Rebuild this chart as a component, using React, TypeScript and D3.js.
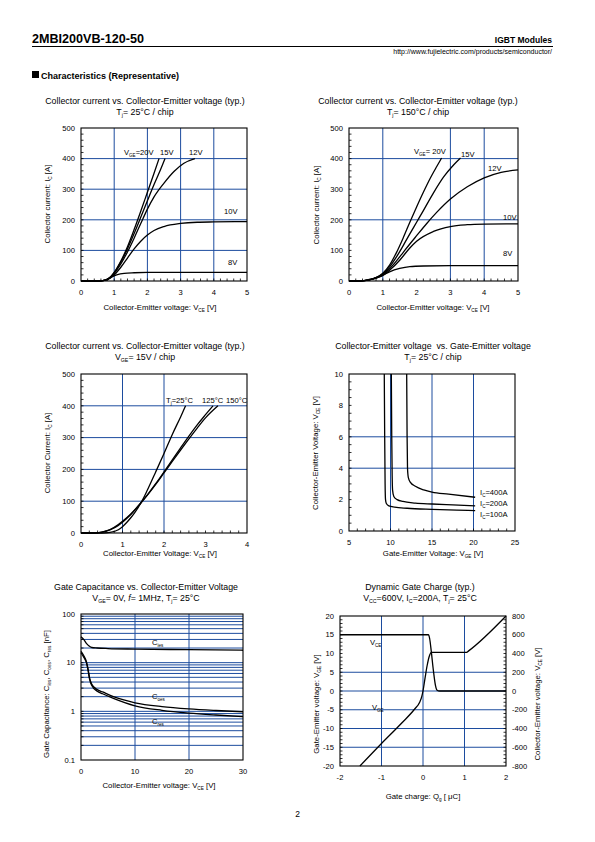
import React from 'react';
import * as d3 from 'd3';

type Pt = [number, number];

const FONT = "'Liberation Sans', Arial, Helvetica, sans-serif";
const GRID = '#1c4c9e';
const TS = 8.8; // title size
const LS = 7.8; // axis label size

// ---------- Chart 1: Ic vs Vce, Tj=25C ----------
const c1XTicks = [0, 1, 2, 3, 4, 5];
const c1YTicks = [0, 100, 200, 300, 400, 500];
const c1Vge20: Pt[] = [[0, 0], [0.5, 0], [0.7, 2], [0.8, 6], [0.9, 15], [1.0, 28], [1.2, 65], [1.4, 112], [1.6, 168], [1.8, 228], [2.0, 290], [2.2, 352], [2.35, 400]];
const c1Vge15: Pt[] = [[0, 0], [0.5, 0], [0.7, 2], [0.8, 6], [0.9, 14], [1.0, 27], [1.2, 62], [1.4, 105], [1.6, 155], [1.8, 208], [2.0, 262], [2.2, 315], [2.4, 365], [2.53, 400]];
const c1Vge12: Pt[] = [[0, 0], [0.5, 0], [0.7, 2], [0.8, 5], [0.9, 13], [1.0, 25], [1.2, 56], [1.4, 95], [1.6, 140], [1.8, 188], [2.0, 235], [2.2, 275], [2.5, 320], [2.8, 358], [3.1, 385], [3.43, 400]];
const c1Vge10: Pt[] = [[0, 0], [0.5, 0], [0.7, 2], [0.8, 5], [0.9, 11], [1.0, 20], [1.2, 45], [1.4, 75], [1.6, 105], [1.8, 130], [2.0, 150], [2.2, 165], [2.5, 178], [3.0, 188], [3.5, 192], [4.0, 193], [5.0, 194]];
const c1Vge8: Pt[] = [[0, 0], [0.5, 0], [0.7, 2], [0.8, 6], [0.9, 12], [1.0, 17], [1.1, 21], [1.3, 25], [1.6, 27], [2.0, 28], [3.0, 28], [5.0, 28]];

// ---------- Chart 2: Ic vs Vce, Tj=150C ----------
const c2Vge20: Pt[] = [[0, 0], [0.3, 0], [0.5, 2], [0.7, 7], [0.9, 17], [1.0, 25], [1.2, 52], [1.4, 92], [1.6, 140], [1.8, 192], [2.0, 242], [2.2, 290], [2.4, 335], [2.6, 375], [2.74, 402]];
const c2Vge15: Pt[] = [[0, 0], [0.3, 0], [0.5, 2], [0.7, 7], [0.9, 16], [1.0, 23], [1.2, 46], [1.4, 78], [1.6, 115], [1.8, 154], [2.0, 192], [2.2, 230], [2.5, 288], [2.8, 340], [3.1, 380], [3.3, 402]];
const c2Vge12: Pt[] = [[0, 0], [0.3, 0], [0.5, 2], [0.7, 7], [0.9, 15], [1.0, 21], [1.2, 40], [1.4, 65], [1.6, 93], [1.8, 121], [2.0, 148], [2.3, 188], [2.6, 225], [3.0, 268], [3.5, 308], [4.0, 337], [4.5, 355], [5.0, 363]];
const c2Vge10: Pt[] = [[0, 0], [0.3, 0], [0.5, 2], [0.7, 6], [0.9, 13], [1.0, 18], [1.2, 35], [1.5, 68], [1.8, 108], [2.0, 130], [2.5, 162], [3.0, 178], [3.5, 184], [4.0, 186], [5.0, 187]];
const c2Vge8: Pt[] = [[0, 0], [0.3, 0], [0.5, 2], [0.7, 6], [0.9, 14], [1.0, 19], [1.2, 30], [1.5, 41], [1.8, 47], [2.2, 49], [3.0, 50], [5.0, 50]];

// ---------- Chart 3: Ic vs Vce, Vge=15V ----------
const c3XTicks = [0, 1, 2, 3, 4];
const c3Tj25: Pt[] = [[0, 0], [0.5, 0], [0.7, 2], [0.9, 10], [1.0, 20], [1.1, 33], [1.2, 48], [1.3, 65], [1.4, 85], [1.5, 108], [1.6, 135], [1.8, 192], [2.0, 250], [2.2, 310], [2.4, 365], [2.52, 400]];
const c3Tj125: Pt[] = [[0, 0], [0.3, 0], [0.5, 3], [0.7, 10], [0.9, 24], [1.0, 34], [1.2, 58], [1.4, 88], [1.6, 120], [1.8, 155], [2.0, 192], [2.2, 230], [2.4, 268], [2.6, 305], [2.8, 340], [3.0, 372], [3.18, 400]];
const c3Tj150: Pt[] = [[0, 0], [0.3, 0], [0.5, 3], [0.7, 11], [0.9, 27], [1.0, 37], [1.2, 60], [1.4, 88], [1.6, 119], [1.8, 153], [2.0, 189], [2.2, 225], [2.4, 261], [2.6, 296], [2.8, 330], [3.0, 362], [3.3, 400]];

// ---------- Chart 4: Vce vs Vge ----------
const c4XTicks = [5, 10, 15, 20, 25];
const c4YTicks = [0, 2, 4, 6, 8, 10];
const c4Ic100: Pt[] = [[9.25, 10], [9.3, 6], [9.35, 3], [9.4, 2.0], [9.5, 1.75], [9.8, 1.6], [10.5, 1.52], [12, 1.45], [15, 1.38], [18, 1.33], [20.2, 1.3]];
const c4Ic200: Pt[] = [[10.1, 10], [10.15, 6], [10.2, 3.5], [10.25, 2.6], [10.4, 2.2], [10.8, 2.0], [11.5, 1.88], [13, 1.78], [15, 1.72], [17.5, 1.66], [20.2, 1.6]];
const c4Ic400: Pt[] = [[11.95, 10], [12.0, 6], [12.05, 4], [12.15, 3.4], [12.4, 3.1], [13, 2.85], [14, 2.62], [15, 2.48], [17, 2.35], [20.2, 2.15]];

// ---------- Chart 5: Capacitance ----------
const c5XTicks = [0, 10, 20, 30];
const c5YTicks = [0.1, 1, 10, 100];
const c5Cies: Pt[] = [[0, 34], [0.5, 30], [1, 25], [1.5, 22], [2, 20.5], [3, 20], [5, 19.5], [10, 19], [20, 18.5], [30, 18]];
const c5Coes: Pt[] = [[0, 17], [0.5, 14], [1, 10.5], [1.3, 7.5], [1.6, 4.8], [2, 3.6], [3, 2.8], [4, 2.5], [6, 2.0], [10, 1.5], [15, 1.25], [20, 1.12], [25, 1.04], [30, 0.98]];
const c5Cres: Pt[] = [[0, 16], [0.5, 13], [1, 10], [1.3, 7], [1.6, 4.5], [2, 3.4], [3, 2.6], [4, 2.3], [6, 1.85], [10, 1.3], [15, 1.05], [20, 0.92], [25, 0.84], [30, 0.78]];

// ---------- Chart 6: Gate charge ----------
const c6XTicks = [-2, -1, 0, 1, 2];
const c6YTicks = [-20, -15, -10, -5, 0, 5, 10, 15, 20];
const c6Y2Ticks = [-800, -600, -400, -200, 0, 200, 400, 600, 800];
const c6Vge: Pt[] = [[-1.52, -20], [-1, -14], [-0.5, -8.4], [-0.2, -4.8], [-0.08, -3], [-0.03, -1.5], [0, 0], [0.05, 3.5], [0.1, 6.8], [0.15, 9.2], [0.2, 10.3], [1.05, 10.3], [1.1, 10.7], [2.0, 20]];
const c6Vce: Pt[] = [[-2, 600], [0.13, 600], [0.16, 560], [0.2, 420], [0.25, 220], [0.3, 60], [0.34, 8], [0.4, 0], [2, 0]];

type Part = string | { s: string } | { i: string };

function Txt({ x, y, parts, size = 7.5, anchor = 'start', weight, rotate }: { x: number; y: number; parts: Part[]; size?: number; anchor?: string; weight?: string; rotate?: boolean }) {
  let sub = false;
  const sh = size * 0.22;
  const els = parts.map((p, i) => {
    if (typeof p === 'string') {
      const el = <tspan key={i} dy={sub ? -sh : 0}>{p}</tspan>;
      sub = false;
      return el;
    }
    if ('i' in p) {
      const el = <tspan key={i} dy={sub ? -sh : 0} fontStyle="italic">{p.i}</tspan>;
      sub = false;
      return el;
    }
    const el = <tspan key={i} fontSize={size * 0.6} dy={sub ? 0 : sh}>{p.s}</tspan>;
    sub = true;
    return el;
  });
  return (
    <text x={x} y={y} fontSize={size} textAnchor={anchor as any} fontWeight={weight} style={{ whiteSpace: 'pre' }}
      transform={rotate ? `rotate(-90 ${x} ${y})` : undefined}>{els}</text>
  );
}

function range(a: number, b: number, s: number) {
  const r: number[] = [];
  for (let v = a; v <= b + 1e-9; v += s) r.push(+v.toFixed(6));
  return r;
}

function Axes({ x, y, xTicks, yTicks, xGrid, yGrid, xMinor, yMinor, yFmt, xFmt }: any) {
  const [x0, x1] = x.range();
  const [y0, y1] = y.range(); // y0 bottom
  return (
    <g>
      {xGrid.map((v: number) => <line key={'xg' + v} x1={x(v)} x2={x(v)} y1={y0} y2={y1} stroke={GRID} strokeWidth={1} />)}
      {yGrid.map((v: number) => <line key={'yg' + v} x1={x0} x2={x1} y1={y(v)} y2={y(v)} stroke={GRID} strokeWidth={1} />)}
      {xMinor.map((v: number) => <line key={'xm' + v} x1={x(v)} x2={x(v)} y1={y0} y2={y0 - 2.5} stroke="#000" strokeWidth={0.8} />)}
      {yMinor.map((v: number) => <line key={'ym' + v} x1={x0} x2={x0 + 2.5} y1={y(v)} y2={y(v)} stroke="#000" strokeWidth={0.8} />)}
      <rect x={x0} y={y1} width={x1 - x0} height={y0 - y1} fill="none" stroke="#000" strokeWidth={1.1} />
      {xTicks.map((v: number) => <text key={'xt' + v} x={x(v)} y={y0 + 14} fontSize={7.6} textAnchor="middle">{xFmt ? xFmt(v) : v}</text>)}
      {yTicks.map((v: number) => <text key={'yt' + v} x={x0 - 6} y={y(v) + 2.7} fontSize={7.6} textAnchor="end">{yFmt ? yFmt(v) : v}</text>)}
    </g>
  );
}

function Curve({ data, x, y, w = 1.3 }: any) {
  const g = d3.line<Pt>().x(d => x(d[0])).y(d => y(d[1])).curve(d3.curveMonotoneX);
  return <path d={g(data) || ''} fill="none" stroke="#000" strokeWidth={w} />;
}

const VGE = (pre: string, post: string): Part[] => [pre + 'V', { s: 'GE' }, post];

export default function App() {
  const x1 = d3.scaleLinear().domain([0, 5]).range([81, 247]);
  const y1 = d3.scaleLinear().domain([0, 500]).range([281, 128]);
  const x2 = d3.scaleLinear().domain([0, 5]).range([349, 518]);
  const y2 = d3.scaleLinear().domain([0, 500]).range([281, 128]);
  const x3 = d3.scaleLinear().domain([0, 4]).range([81, 247]);
  const y3 = d3.scaleLinear().domain([0, 500]).range([533, 374]);
  const x4 = d3.scaleLinear().domain([5, 25]).range([349, 515]);
  const y4 = d3.scaleLinear().domain([0, 10]).range([531, 374]);
  const x5 = d3.scaleLinear().domain([0, 30]).range([81, 243]);
  const y5 = d3.scaleLog().domain([0.1, 100]).range([760, 614]);
  const x6 = d3.scaleLinear().domain([-2, 2]).range([340, 506]);
  const y6 = d3.scaleLinear().domain([-20, 20]).range([766, 616]);
  const y6r = d3.scaleLinear().domain([-800, 800]).range([766, 616]);

  const logGrid: number[] = [];
  [0.1, 1, 10].forEach(d => { for (let k = 2; k <= 10; k++) { const v = +(d * k).toPrecision(3); if (v < 100) logGrid.push(v); } });

  return (
    <svg width={595} height={842} viewBox="0 0 595 842" style={{ position: 'absolute', left: 0, top: 0, background: '#fff' }} fontFamily={FONT}>
      <rect x={0} y={0} width={595} height={842} fill="#fff" />
      {/* header */}
      <text x={32} y={43} fontSize={12.6} fontWeight="bold">2MBI200VB-120-50</text>
      <line x1={32} x2={553} y1={46.5} y2={46.5} stroke="#000" strokeWidth={1} />
      <text x={552} y={43} fontSize={8.5} fontWeight="bold" textAnchor="end">IGBT Modules</text>
      <text x={552} y={53.5} fontSize={7} textAnchor="end">http://www.fujielectric.com/products/semiconductor/</text>
      <rect x={32} y={71} width={7} height={7} fill="#000" />
      <text x={41} y={78.5} fontSize={9} fontWeight="bold">Characteristics (Representative)</text>

      {/* ---- Chart 1 ---- */}
      <text x={145} y={104} fontSize={TS} textAnchor="middle">Collector current vs. Collector-Emitter voltage (typ.)</text>
      <Txt x={145} y={115} size={TS} anchor="middle" parts={['T', { s: 'j' }, '= 25°C / chip']} />
      <Axes x={x1} y={y1} xTicks={c1XTicks} yTicks={c1YTicks} xGrid={[1, 2, 3, 4]} yGrid={[100, 200, 300, 400]}
        xMinor={range(0.2, 4.8, 0.2)} yMinor={range(20, 480, 20)} />
      {[c1Vge20, c1Vge15, c1Vge12, c1Vge10, c1Vge8].map((d, i) => <Curve key={i} data={d} x={x1} y={y1} />)}
      <Txt x={124} y={155} size={7.6} parts={VGE('', '=20V')} />
      <text x={160} y={155} fontSize={7.6}>15V</text>
      <text x={189} y={155} fontSize={7.6}>12V</text>
      <text x={224} y={214} fontSize={7.6}>10V</text>
      <text x={228} y={265} fontSize={7.6}>8V</text>
      <Txt x={160} y={310} size={LS} anchor="middle" parts={['Collector-Emitter voltage: V', { s: 'CE' }, ' [V]']} />
      <Txt x={50} y={204} size={LS} anchor="middle" rotate parts={['Collector current: I', { s: 'C' }, ' [A]']} />

      {/* ---- Chart 2 ---- */}
      <text x={418} y={104} fontSize={TS} textAnchor="middle">Collector current vs. Collector-Emitter voltage (typ.)</text>
      <Txt x={418} y={115} size={TS} anchor="middle" parts={['T', { s: 'j' }, '= 150°C / chip']} />
      <Axes x={x2} y={y2} xTicks={c1XTicks} yTicks={c1YTicks} xGrid={[1, 3, 4]} yGrid={[200, 400]}
        xMinor={range(0.2, 4.8, 0.2)} yMinor={range(20, 480, 20)} />
      {[c2Vge20, c2Vge15, c2Vge12, c2Vge10, c2Vge8].map((d, i) => <Curve key={i} data={d} x={x2} y={y2} />)}
      <Txt x={414} y={154} size={7.6} parts={VGE('', '= 20V')} />
      <text x={461} y={157} fontSize={7.6}>15V</text>
      <text x={488} y={171} fontSize={7.6}>12V</text>
      <text x={503} y={220} fontSize={7.6}>10V</text>
      <text x={503} y={256} fontSize={7.6}>8V</text>
      <Txt x={433} y={310} size={LS} anchor="middle" parts={['Collector-Emitter voltage: V', { s: 'CE' }, ' [V]']} />
      <Txt x={319} y={205} size={LS} anchor="middle" rotate parts={['Collector current: I', { s: 'C' }, ' [A]']} />

      {/* ---- Chart 3 ---- */}
      <text x={145} y={349} fontSize={TS} textAnchor="middle">Collector current vs. Collector-Emitter voltage (typ.)</text>
      <Txt x={145} y={360} size={TS} anchor="middle" parts={VGE('', '= 15V / chip')} />
      <Axes x={x3} y={y3} xTicks={c3XTicks} yTicks={c1YTicks} xGrid={[1, 2]} yGrid={[100, 200, 300, 400]}
        xMinor={range(0.2, 3.8, 0.2)} yMinor={range(20, 480, 20)} />
      {[c3Tj25, c3Tj125, c3Tj150].map((d, i) => <Curve key={i} data={d} x={x3} y={y3} />)}
      <Txt x={166} y={403} size={7.6} parts={['T', { s: 'j' }, '=25°C']} />
      <text x={202} y={403} fontSize={7.6}>125°C</text>
      <text x={226} y={403} fontSize={7.6}>150°C</text>
      <Txt x={160} y={556} size={LS} anchor="middle" parts={['Collector-Emitter Voltage: V', { s: 'CE' }, ' [V]']} />
      <Txt x={50} y={453} size={LS} anchor="middle" rotate parts={['Collector Current: I', { s: 'C' }, ' [A]']} />

      {/* ---- Chart 4 ---- */}
      <text x={433} y={349} fontSize={TS} textAnchor="middle" style={{ whiteSpace: 'pre' }}>{'Collector-Emitter voltage  vs. Gate-Emitter voltage'}</text>
      <Txt x={433} y={360} size={TS} anchor="middle" parts={['T', { s: 'j' }, '= 25°C / chip']} />
      <Axes x={x4} y={y4} xTicks={c4XTicks} yTicks={c4YTicks} xGrid={[10, 15, 20]} yGrid={[4, 6]}
        xMinor={range(6, 24, 1)} yMinor={range(0.5, 9.5, 0.5)} />
      {[c4Ic100, c4Ic200, c4Ic400].map((d, i) => <Curve key={i} data={d} x={x4} y={y4} />)}
      <Txt x={480} y={495} size={7.6} parts={['I', { s: 'C' }, '=400A']} />
      <Txt x={480} y={506} size={7.6} parts={['I', { s: 'C' }, '=200A']} />
      <Txt x={480} y={517} size={7.6} parts={['I', { s: 'C' }, '=100A']} />
      <Txt x={433} y={556} size={LS} anchor="middle" parts={['Gate-Emitter Voltage: V', { s: 'GE' }, ' [V]']} />
      <Txt x={318} y={453} size={LS} anchor="middle" rotate parts={['Collector-Emitter Voltage: V', { s: 'CE' }, ' [V]']} />

      {/* ---- Chart 5 ---- */}
      <text x={146} y={590} fontSize={TS} textAnchor="middle">Gate Capacitance vs. Collector-Emitter Voltage</text>
      <Txt x={146} y={601} size={TS} anchor="middle" parts={['V', { s: 'GE' }, '= 0V, ', { i: 'f' }, '= 1MHz, T', { s: 'j' }, '= 25°C']} />
      <Axes x={x5} y={y5} xTicks={c5XTicks} yTicks={c5YTicks} xGrid={[10, 20]} yGrid={logGrid}
        xMinor={[]} yMinor={logGrid} yFmt={(v: number) => String(v)} />
      {[c5Cies, c5Coes, c5Cres].map((d, i) => <Curve key={i} data={d} x={x5} y={y5} />)}
      <Txt x={152} y={645} size={7.6} parts={['C', { s: 'ies' }]} />
      <Txt x={152} y={699} size={7.6} parts={['C', { s: 'oes' }]} />
      <Txt x={152} y={724} size={7.6} parts={['C', { s: 'res' }]} />
      <Txt x={159} y={788} size={LS} anchor="middle" parts={['Collector-Emitter voltage: V', { s: 'CE' }, ' [V]']} />
      <Txt x={49} y={694} size={LS} anchor="middle" rotate parts={['Gate Capacitance: C', { s: 'ies' }, ', C', { s: 'oes' }, ', C', { s: 'res' }, ' [nF]']} />

      {/* ---- Chart 6 ---- */}
      <text x={420} y={590} fontSize={TS} textAnchor="middle">Dynamic Gate Charge (typ.)</text>
      <Txt x={420} y={601} size={TS} anchor="middle" parts={['V', { s: 'CC' }, '=600V, I', { s: 'C' }, '=200A, T', { s: 'j' }, '= 25°C']} />
      <Axes x={x6} y={y6} xTicks={c6XTicks} yTicks={c6YTicks} xGrid={[-1, 0, 1]} yGrid={[-15, -10, -5, 0, 5]}
        xMinor={[]} yMinor={range(-19, 19, 1)} />
      {range(-760, 760, 40).map(v => <line key={'r' + v} x1={506} x2={503.5} y1={y6r(v)} y2={y6r(v)} stroke="#000" strokeWidth={0.8} />)}
      {c6Y2Ticks.map(v => <text key={'r2' + v} x={512} y={y6r(v) + 2.7} fontSize={7.6}>{v}</text>)}
      <Curve data={c6Vce} x={x6} y={y6r} />
      <Curve data={c6Vge} x={x6} y={y6} />
      <Txt x={370} y={645} size={7.6} parts={['V', { s: 'CE' }]} />
      <Txt x={372} y={710} size={7.6} parts={['V', { s: 'GE' }]} />
      <Txt x={423} y={799} size={LS} anchor="middle" parts={['Gate charge: Q', { s: 'g' }, ' [ μC]']} />
      <Txt x={319} y={704} size={LS} anchor="middle" rotate parts={['Gate-Emitter voltage: V', { s: 'GE' }, ' [V]']} />
      <Txt x={540} y={704} size={LS} anchor="middle" rotate parts={['Collector-Emitter voltage: V', { s: 'CE' }, ' [V]']} />

      <text x={297.5} y={817} fontSize={8.5} textAnchor="middle">2</text>
    </svg>
  );
}
